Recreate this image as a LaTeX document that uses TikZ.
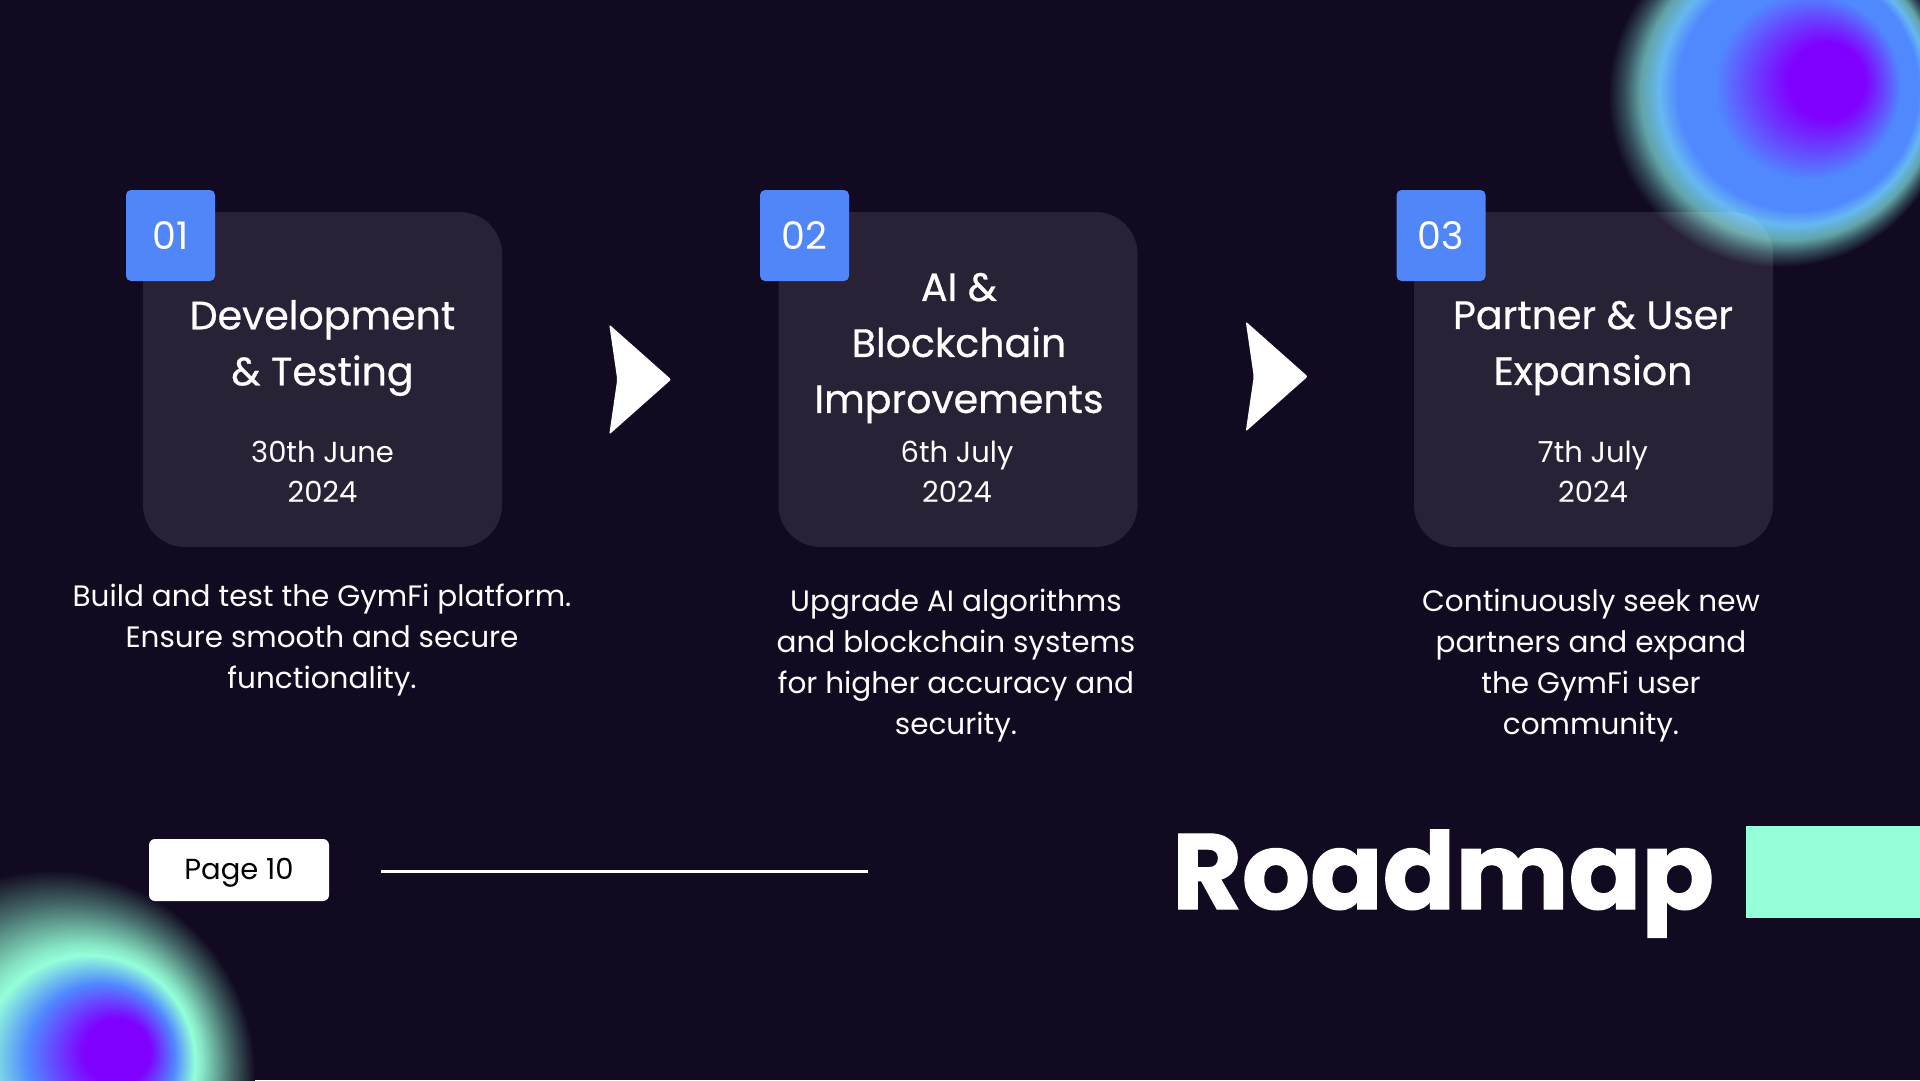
\documentclass[tikz,border=0pt]{standalone}
\usepackage{fontspec}
\setmainfont{Poppins}
\newfontfamily\pmed{Poppins}[FakeBold=0.6]
\newfontfamily\pheavy{Poppins}[UprightFont=* Bold, BoldFont=* Bold, FakeBold=1.2]
\usetikzlibrary{calc}
\definecolor{bg}{RGB}{17,10,33}
\definecolor{badgeblue}{RGB}{80,134,248}
\definecolor{mint}{RGB}{148,255,216}
\definecolor{gblue}{RGB}{80,136,255}
\definecolor{gpurple}{RGB}{127,0,255}
\definecolor{gcyan}{RGB}{110,200,236}
\colorlet{rim}{mint!55!gcyan}
% the path's bounding box is mapped onto +-25bp of the shading
\pgfdeclareradialshading{trglow}{\pgfpoint{8.8bp}{2.65bp}}{color(0bp)=(gpurple); color(5.5bp)=(gpurple); color(10bp)=(gpurple!45!gblue); color(13.5bp)=(gblue); color(17.5bp)=(gblue); color(19.5bp)=(gcyan!75!gblue); color(21.5bp)=(rim!70!bg); color(23.25bp)=(rim!30!bg); color(25bp)=(bg)}
\pgfdeclareradialshading{blglow}{\pgfpoint{9.75bp}{3.4bp}}{color(0bp)=(gpurple); color(4bp)=(gpurple); color(6.5bp)=(gpurple!50!gblue); color(9bp)=(gblue); color(11bp)=(gblue!50!mint); color(13bp)=(mint); color(14.5bp)=(mint!90!bg); color(20bp)=(mint!40!bg); color(25bp)=(bg)}
\begin{document}
\begin{tikzpicture}[x=1pt,y=-1pt,
  card/.style={fill=white, fill opacity=0.1, rounded corners=42pt, minimum width=359pt, minimum height=335pt, inner sep=0pt},
  badge/.style={fill=badgeblue, rounded corners=5pt, minimum width=89pt, minimum height=91pt, inner sep=0pt, text=white, font=\fontsize{38}{40}\selectfont},
  title/.style={text=white, align=center, font=\pmed\fontsize{39.5}{56}\selectfont, inner sep=0pt},
  datetext/.style={text=white, align=center, font=\fontsize{29}{40}\selectfont, inner sep=0pt},
  desc/.style={text=white, align=center, font=\fontsize{29.5}{41}\selectfont, inner sep=0pt},
  chevron/.pic={\fill[white, rounded corners=2pt] (-31,-55) -- (31,0) -- (-31,55) -- (-23,0) -- cycle;}
]
\useasboundingbox (0,0) rectangle (1920,1080);
\fill[bg] (0,0) rectangle (1920,1080);
\clip (0,0) rectangle (1920,1080);

% glows
\shade[shading=trglow] (1780,95) circle[radius=172];
\shade[shading=blglow] (50,1075) circle[radius=205];

% cards
\node[card] (c1) at (322.5,379.5) {};
\node[card] (c2) at (958,379.5) {};
\node[card] (c3) at (1593.5,379.5) {};

\node[badge] (b1) at (170.5,235.5) {01};
\node[badge] (b2) at (804.5,235.5) {02};
\node[badge] (b3) at (1441,235.5) {03};

\node[title] (t1) at (322.5,348) {Development\\\& Testing};
\node[title] (t2) at (959,348) {AI \&\\Blockchain\\Improvements};
\node[title] (t3) at (1593,348) {Partner \& User\\Expansion};

\node[datetext] (d1) at (322.5,472) {30th June\\2024};
\node[datetext] (d2) at (957,472) {6th July\\2024};
\node[datetext] (d3) at (1593,472) {7th July\\2024};

\node[desc] (e1) at (322,640) {Build and test the GymFi platform.\\Ensure smooth and secure\\functionality.};
\node[desc] (e2) at (956,666) {Upgrade AI algorithms\\and blockchain systems\\for higher accuracy and\\security.};
\node[desc] (e3) at (1591,666) {Continuously seek new\\partners and expand\\the GymFi user\\community.};

% chevrons between cards
\coordinate (a1) at ($(c1.east)!0.5!(c2.west)$);
\coordinate (a2) at ($(c2.east)!0.5!(c3.west)+(1,-3)$);
\pic at (a1) {chevron};
\pic at (a2) {chevron};

% footer
\node[fill=white, rounded corners=6pt, minimum width=180pt, minimum height=62pt, inner sep=0pt] (pg) at (239,870) {};
\node[inner sep=0pt, text=black, font=\fontsize{29}{30}\selectfont] (pgt) at ($(pg.center)+(0,3)$) {Page 10};
\coordinate (l1) at (381,871);
\coordinate (l2) at (868,871);
\draw[white, line width=3pt] (l1) -- (l2);

\node[anchor=base west, inner sep=0pt, text=white, font=\pheavy\fontsize{107}{107}\selectfont] (rm) at (1172,909) {Roadmap};
\node[fill=mint, minimum width=174pt, minimum height=92pt, inner sep=0pt, anchor=north west] (mr) at (1746,826) {};
\end{tikzpicture}
\end{document}
